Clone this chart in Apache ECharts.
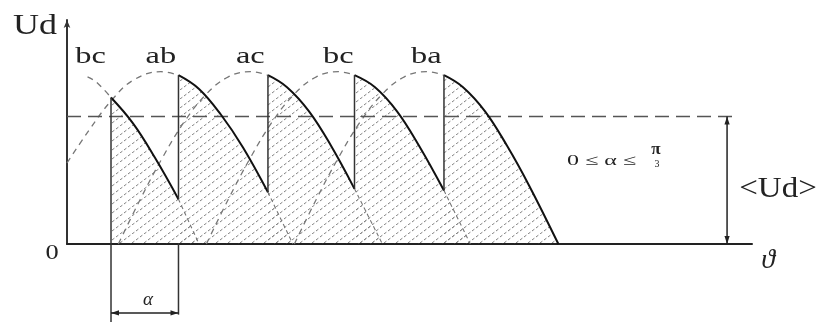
<!DOCTYPE html>
<html>
<head>
<meta charset="utf-8">
<script src="https://cdn.jsdelivr.net/npm/echarts@6/dist/echarts.min.js"></script>
<style>
  html, body { margin: 0; padding: 0; background: #fff; }
  #chart { width: 822px; height: 322px; }
</style>
</head>
<body>
<div id="chart"></div>
<script>
// Rectified output of a controlled three-phase bridge.
// x: phase angle ϑ in degrees, y: line voltage as a fraction of its peak.
const arcNames = ['bc', 'ab', 'ac', 'bc', 'ba'];
const arcPeaks = [0, 64, 125, 185, 245];
const firing = [30, 76, 137, 196, 257];

const arcBc1 = [[14, 0.97], [20, 0.94], [30, 0.85], [45, 0.70], [60, 0.50], [76, 0.26], [90, 0]];
const arcAb = [[0, 0.47], [15, 0.66], [30, 0.83], [45, 0.95], [64, 1.0], [76, 0.98], [90, 0.90], [105, 0.75], [120, 0.56], [137, 0.30], [154, 0]];
const arcAc = [[35, 0], [50, 0.26], [65, 0.50], [80, 0.71], [95, 0.87], [110, 0.97], [125, 1.0], [137, 0.98], [150, 0.91], [165, 0.77], [180, 0.57], [196, 0.32], [215, 0]];
const arcBc2 = [[95, 0], [110, 0.26], [125, 0.50], [140, 0.71], [155, 0.87], [170, 0.97], [185, 1.0], [196, 0.98], [210, 0.91], [225, 0.77], [240, 0.57], [257, 0.31], [275, 0]];
const arcBa = [[155, 0], [170, 0.26], [185, 0.50], [200, 0.71], [215, 0.87], [230, 0.97], [245, 1.0], [257, 0.98], [270, 0.91], [285, 0.77], [300, 0.57], [315, 0.34], [335, 0]];

const udAvg = 0.74;

// layout (axis units)
const X_MAX = 467, Y_MAX = 1.3;
const AVG_LINE_END = 454;
const UD_MARK_X = 450;
const ALPHA_LEVEL = -0.40;
const ALPHA_TICK_END = -0.41;
const BOTTOM_EDGE = -0.47;
const FIRST_LABEL_MIN_X = 16;

const arcs = [arcBc1, arcAb, arcAc, arcBc2, arcBa];
const within = (pts, a, b) => pts.filter(p => p[0] >= a && p[0] <= b);
const valueAt = (pts, x) => pts.find(p => p[0] === x)[1];

// diagonal hatch tile for the conducting areas
function hatchTile() {
  const w = 12, h = 9;
  const c = document.createElement('canvas');
  c.width = w; c.height = h;
  const g = c.getContext('2d');
  g.strokeStyle = '#808080';
  g.lineWidth = 1;
  g.setLineDash([3, 2]);
  g.beginPath();
  g.moveTo(-w, 2 * h);
  g.lineTo(2 * w, -h);
  g.stroke();
  return c;
}
const hatch = hatchTile();

const series = [];
arcs.forEach((pts, k) => {
  const f0 = firing[k];
  const f1 = k + 1 < firing.length ? firing[k + 1] : Infinity;
  // hatched area under the curve from firing to zero crossing
  series.push({
    type: 'line', data: within(pts, f0, Infinity), smooth: 0.4, showSymbol: false, silent: true,
    lineStyle: { width: 0, opacity: 0 },
    areaStyle: { color: { image: hatch, repeat: 'repeat' }, opacity: 1 },
    z: 1
  });
  // voltage before firing, dashed
  series.push({
    type: 'line', data: within(pts, -Infinity, f0), smooth: 0.4, showSymbol: false, silent: true,
    lineStyle: { color: '#777', width: 1.3, type: [6, 5] }, z: 3
  });
  // conducting interval, solid
  series.push({
    type: 'line', data: within(pts, f0, f1), smooth: 0.4, showSymbol: false, silent: true,
    lineStyle: { color: '#111', width: 2 }, z: 5
  });
  // edge of the hatched area after commutation
  if (f1 !== Infinity) {
    series.push({
      type: 'line', data: within(pts, f1, Infinity), smooth: 0.4, showSymbol: false, silent: true,
      lineStyle: { color: '#777', width: 1.1, type: [4, 3] }, z: 2
    });
  }
});

// mean output voltage
series.push({
  type: 'line', data: [[0, udAvg], [AVG_LINE_END, udAvg]], showSymbol: false, silent: true,
  lineStyle: { color: '#555', width: 1.5, type: [14, 7] }, z: 3
});

// vertical jumps at the firing instants
const verticals = firing.map((f, k) => [f, k === 0 ? BOTTOM_EDGE : valueAt(arcs[k - 1], f), valueAt(arcs[k], f)]);
verticals.push([firing[1], 0, ALPHA_TICK_END]);
series.push({
  type: 'custom', clip: false, silent: true, z: 6,
  data: verticals,
  renderItem: (params, api) => {
    const a = api.coord([api.value(0), api.value(1)]);
    const b = api.coord([api.value(0), api.value(2)]);
    return {
      type: 'line',
      shape: { x1: a[0], y1: a[1], x2: b[0], y2: b[1] },
      style: { stroke: '#333', lineWidth: 1.5 }
    };
  }
});

// double-headed dimension arrows: firing delay α and mean voltage <Ud>
const arrows = [
  [firing[0], firing[1], ALPHA_LEVEL, ALPHA_LEVEL],
  [UD_MARK_X, UD_MARK_X, udAvg, 0]
];
series.push({
  type: 'custom', clip: false, silent: true, z: 6,
  data: arrows,
  renderItem: (params, api) => {
    const a = api.coord([api.value(0), api.value(2)]);
    const b = api.coord([api.value(1), api.value(3)]);
    const dx = b[0] - a[0], dy = b[1] - a[1];
    const L = Math.hypot(dx, dy), ux = dx / L, uy = dy / L;
    const head = (t, d) => {
      const len = 8, hw = 2.6;
      const bx = t[0] - d[0] * len, by = t[1] - d[1] * len;
      return {
        type: 'polygon',
        shape: { points: [t, [bx - d[1] * hw, by + d[0] * hw], [bx + d[1] * hw, by - d[0] * hw]] },
        style: { fill: '#222' }
      };
    };
    return {
      type: 'group',
      children: [
        { type: 'line', shape: { x1: a[0], y1: a[1], x2: b[0], y2: b[1] }, style: { stroke: '#222', lineWidth: 1.5 } },
        head(a, [-ux, -uy]),
        head(b, [ux, uy])
      ]
    };
  }
});

const serif = '"Liberation Serif", "DejaVu Serif", serif';
const txt = (text, x, y, size, opts = {}) => ({
  type: 'text', x, y, silent: true,
  scaleX: opts.scaleX || 1,
  style: {
    text, fill: '#222',
    font: (opts.style || '') + ' ' + (opts.weight || '') + ' ' + size + 'px ' + (opts.family || serif),
    textAlign: opts.align || 'center', textVerticalAlign: 'middle'
  }
});

const option = {
  animation: false,
  backgroundColor: '#fff',
  grid: { left: 67, right: 70, top: 20, bottom: 78 },
  xAxis: {
    type: 'value', min: 0, max: X_MAX,
    axisLine: { show: true, onZero: false, lineStyle: { color: '#222', width: 2 } },
    axisTick: { show: false }, axisLabel: { show: false }, splitLine: { show: false }
  },
  yAxis: {
    type: 'value', min: 0, max: Y_MAX,
    axisLine: { show: true, symbol: ['none', 'arrow'], symbolSize: [5, 8], lineStyle: { color: '#333', width: 2 } },
    axisTick: { show: false }, axisLabel: { show: false }, splitLine: { show: false }
  },
  series,
  graphic: [
    txt('Ud', 35, 26, 30, { scaleX: 1.2 }),
    txt('0', 52, 253, 22, { scaleX: 1.2 }),
    txt('ϑ', 768, 261, 28, { style: 'italic', family: '"Liberation Serif", serif' }),
    txt('α', 148, 300, 19, { style: 'italic' }),
    txt('<Ud>', 778, 189, 30, { scaleX: 1.1 }),
    txt('0 ≤ α ≤', 567, 161, 15, { align: 'left', scaleX: 1.6 }),
    txt('π', 656, 150, 17, { weight: 'bold' }),
    txt('3', 657, 164, 10)
  ]
};

const chart = echarts.init(document.getElementById('chart'), null, { renderer: 'canvas' });
chart.setOption(option);

// phase names above each voltage peak
const peakLabels = arcNames.map((name, i) => {
  const p = chart.convertToPixel({ gridIndex: 0 }, [Math.max(arcPeaks[i], FIRST_LABEL_MIN_X), 1.0]);
  return txt(name, p[0], p[1] - 15, 24, { scaleX: 1.35 });
});
chart.setOption({ graphic: option.graphic.concat(peakLabels) });
</script>
</body>
</html>
